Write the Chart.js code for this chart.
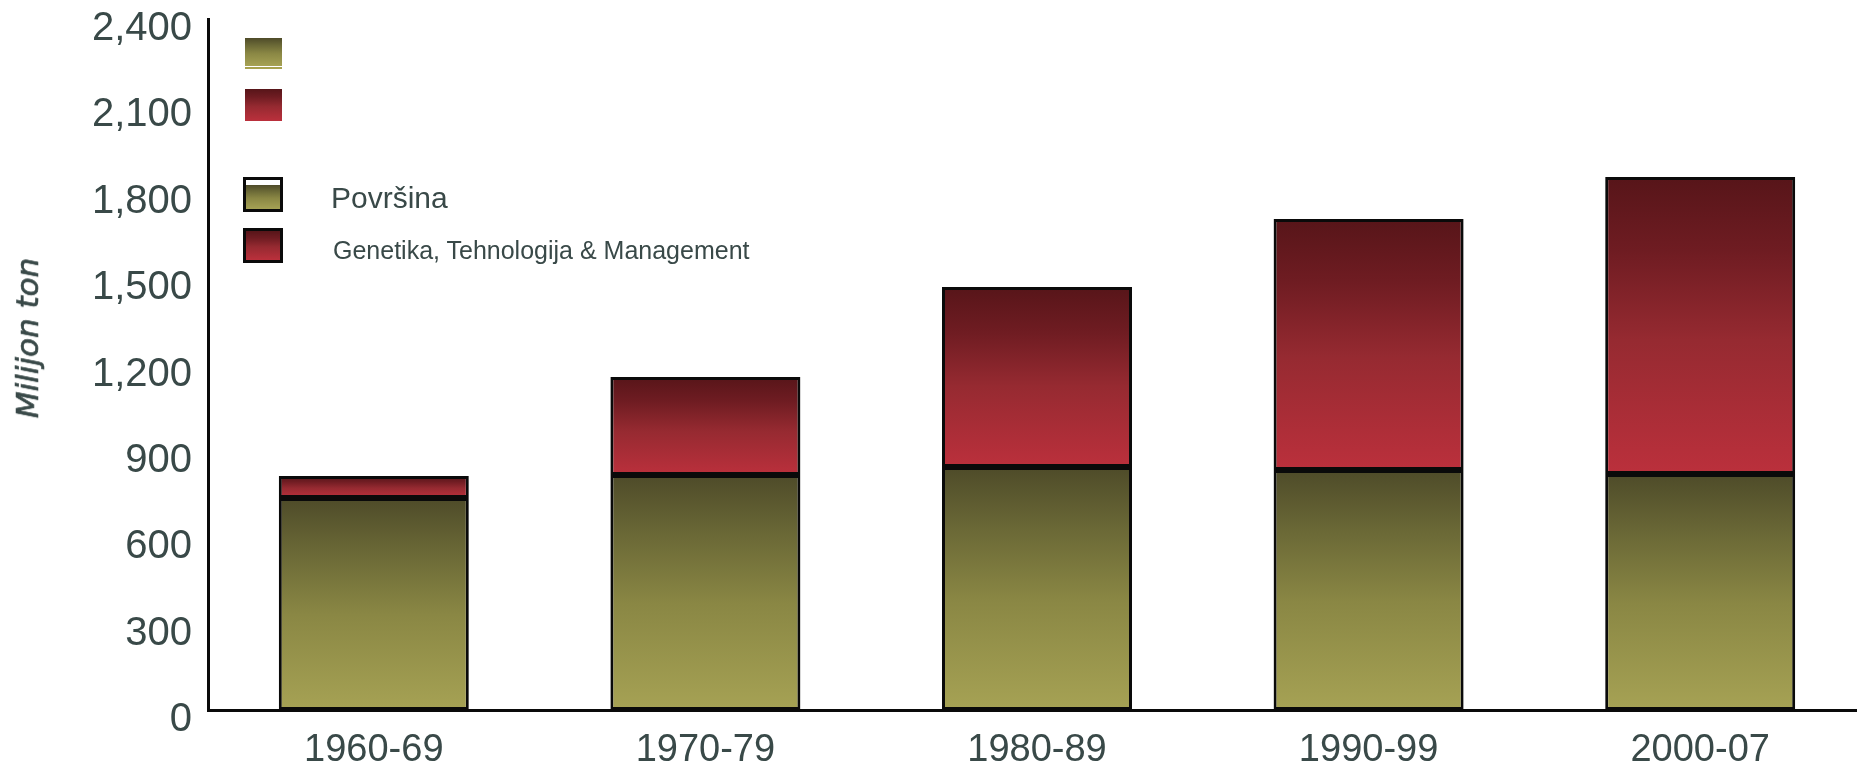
<!DOCTYPE html>
<html>
<head>
<meta charset="utf-8">
<script src="https://cdn.jsdelivr.net/npm/chart.js@4/dist/chart.umd.min.js"></script>
<style>
  html, body { margin: 0; padding: 0; background: #fff; overflow: hidden; }
  #wrap { position: relative; width: 1866px; height: 766px; }
  #chart { position: absolute; left: 0; top: 0; }
  .ytitle {
    position: absolute; left: 27px; top: 338px;
    transform: translate(-50%, -50%) rotate(-90deg);
    font: italic 31px "DejaVu Sans", sans-serif; color: #394948; white-space: nowrap;
    -webkit-text-stroke: 0.7px #394948;
  }
  .key { position: absolute; left: 243px; width: 40px; box-sizing: border-box; }
  .key.plain { left: 245px; width: 37px; }
  .key.boxed { height: 35px; border: 3px solid #0a0a0a; }
  .olive { background: linear-gradient(#4e4b29, #6a6836 25%, #8a8744 55%, #a6a254); }
  .red { background: linear-gradient(#571519, #6f1c22 25%, #962a31 55%, #bb303c); }
  .lbl { position: absolute; color: #394948; font-family: "Liberation Sans", Arial, sans-serif; line-height: 1; white-space: nowrap; }
</style>
</head>
<body>
<div id="wrap">
  <canvas id="chart" width="1866" height="766"></canvas>
  <div class="ytitle">Milijon ton</div>

  <div class="key plain olive" style="top:38px;height:28px"></div>
  <div class="key plain" style="top:67px;height:2px;background:#a8a24f"></div>
  <div class="key plain red" style="top:89px;height:32px"></div>

  <div class="key boxed" style="top:177px;background:#fff">
    <div class="olive" style="position:absolute;left:0;right:0;top:5px;bottom:0"></div>
  </div>
  <div class="key boxed red" style="top:228px"></div>

  <div class="lbl" style="left:331px;top:183px;font-size:30px">Površina</div>
  <div class="lbl" style="left:333px;top:238px;font-size:25px">Genetika, Tehnologija &amp; Management</div>
</div>

<script>
const periods = ["1960-69", "1970-79", "1980-89", "1990-99", "2000-07"];
const povrsina = [736, 816, 844, 834, 820];
const genetika = [77, 341, 625, 871, 1031];
const yTicks = [0, 300, 600, 900, 1200, 1500, 1800, 2100, 2400];

const oliveStops = [[0, "#4e4b29"], [0.25, "#6a6836"], [0.55, "#8a8744"], [1, "#a6a254"]];
const redStops = [[0, "#571519"], [0.25, "#6f1c22"], [0.55, "#962a31"], [1, "#bb303c"]];
const textColor = "#394948";

// vertical gradient spanning one stacked segment, from its top to its bottom
function segmentFill(stops, lowFn, highFn) {
  return (c) => {
    const { chart, dataIndex } = c;
    const y = chart.scales && chart.scales.y;
    if (!chart.chartArea || !y || dataIndex === undefined) return stops[stops.length - 1][1];
    const top = y.getPixelForValue(highFn(dataIndex));
    const bottom = y.getPixelForValue(lowFn(dataIndex));
    const g = chart.ctx.createLinearGradient(0, top, 0, bottom);
    stops.forEach(([o, col]) => g.addColorStop(o, col));
    return g;
  };
}

const barStyle = {
  borderColor: "#0a0a0a", borderWidth: 3, borderSkipped: false,
  barPercentage: 0.573, categoryPercentage: 1,
};

new Chart(document.getElementById("chart"), {
  type: "bar",
  data: {
    labels: periods,
    datasets: [
      {
        label: "Površina", data: povrsina, ...barStyle,
        backgroundColor: segmentFill(oliveStops, () => 0, (i) => povrsina[i]),
      },
      {
        label: "Genetika, Tehnologija & Management", data: genetika, ...barStyle,
        backgroundColor: segmentFill(redStops, (i) => povrsina[i], (i) => povrsina[i] + genetika[i]),
      },
    ],
  },
  options: {
    responsive: false, animation: false, devicePixelRatio: 1,
    layout: { padding: { top: 19, right: 0, bottom: 0, left: 0 } },
    plugins: { legend: { display: false }, tooltip: { enabled: false } },
    scales: {
      x: {
        stacked: true,
        grid: { display: false, drawTicks: false },
        border: { display: true, color: "#0a0a0a", width: 3 },
        ticks: { color: textColor, padding: 18, font: { family: "Liberation Sans", size: 38 } },
        afterFit: (s) => { s.height = 56; s.paddingLeft = 0; s.paddingRight = 0; },
      },
      y: {
        stacked: true, min: 0, max: 2400,
        grid: { display: false, drawTicks: false },
        border: { display: true, color: "#0a0a0a", width: 3 },
        afterBuildTicks: (s) => { s.ticks = yTicks.map((v) => ({ value: v })); },
        ticks: {
          color: textColor, padding: 16, labelOffset: 10,
          font: { family: "Liberation Sans", size: 40 },
          callback: (v) => Number(v).toLocaleString("en-US"),
        },
        afterFit: (s) => { s.width = 208; s.paddingTop = 0; s.paddingBottom = 0; },
      },
    },
  },
});
</script>
</body>
</html>
